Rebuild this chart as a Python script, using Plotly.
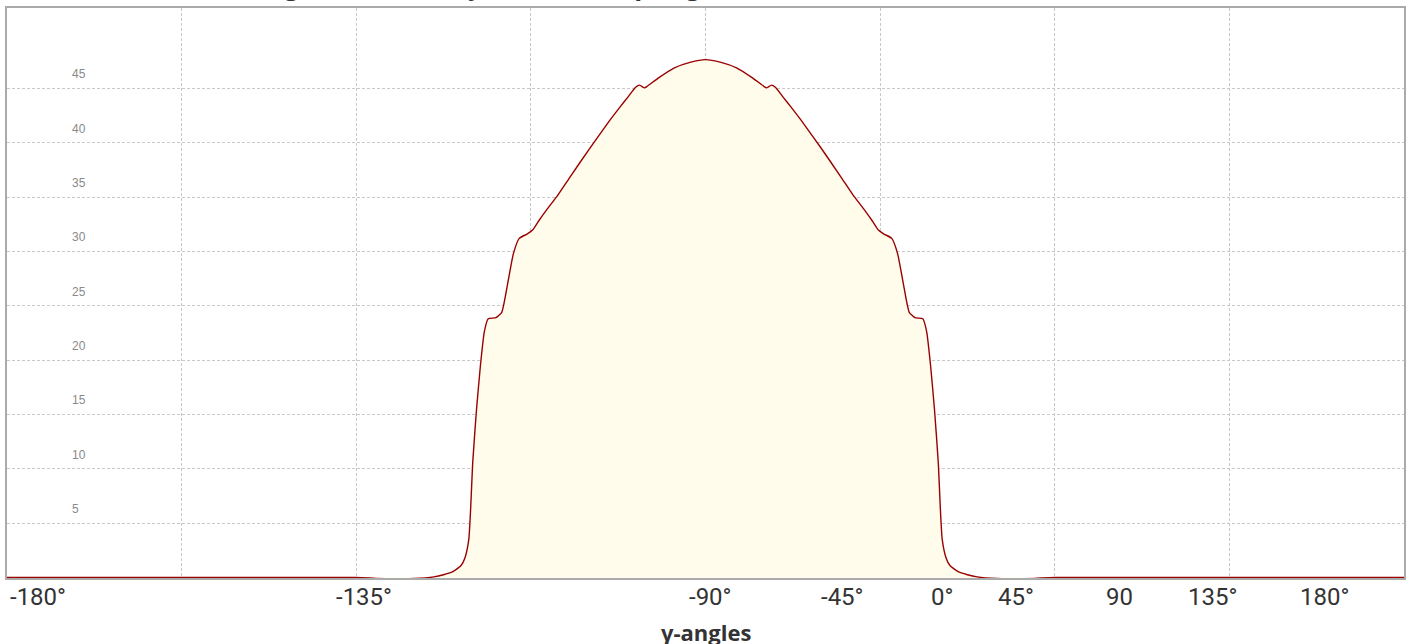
import plotly.graph_objects as go

# ---- data ----
gamma_angles = [-180, -90, -85, -80, -75, -70, -67.5, -65, -63, -62, -61, -60.5, -60, -59, -58, -57, -56,
                -54, -52.5, -51, -49.5, -48, -46, -44.5, -43, -41, -38, -35, -30, -25, -22, -20, -18, -17,
                -15.7, -15, -12, -8, -4, 0,
                4, 8, 12, 15, 15.7, 17, 18, 20, 22, 25, 30, 35, 38, 41, 43, 44.5, 46, 48, 49.5, 51, 52.5,
                54, 56, 57, 58, 59, 60, 60.5, 61, 62, 63, 65, 67.5, 70, 75, 80, 85, 90, 180]
intensity = [0, 0, -0.08, -0.12, -0.1, 0.05, 0.25, 0.55, 1.1, 1.8, 3.5, 6.5, 10.5, 15.5, 19.5, 22.6, 23.8,
             23.9, 24.4, 27.0, 29.8, 31.2, 31.6, 32.0, 32.8, 33.8, 35.2, 36.8, 39.4, 41.9, 43.3, 44.2, 45.1, 45.3,
             45.05, 45.2, 46.0, 46.9, 47.4, 47.65,
             47.4, 46.9, 46.0, 45.2, 45.05, 45.3, 45.1, 44.2, 43.3, 41.9, 39.4, 36.8, 35.2, 33.8, 32.8, 32.0,
             31.6, 31.2, 29.8, 27.0, 24.4, 23.9, 23.8, 22.6, 19.5, 15.5, 10.5, 6.5, 3.5, 1.8, 1.1, 0.55, 0.25,
             0.05, -0.1, -0.12, -0.08, 0, 0]

x_tick_text = ["-180°", "-135°", "-90°", "-45°", "0°", "45°", "90", "135°", "180°"]
y_tick_vals = [5, 10, 15, 20, 25, 30, 35, 40, 45]
title_text = "Luminaire Polar Diagram - Intensity (cd/klm) vs γ-angle"
x_title = "γ-angles"

# label positions (paper fraction across the plot width; first one is a left edge)
x_label_pos = [0.0007, 0.2552, 0.5039, 0.5983, 0.6690, 0.7226, 0.7963, 0.8628, 0.9428]

fig = go.Figure()
fig.add_trace(go.Scatter(
    x=gamma_angles, y=intensity, mode="lines",
    line=dict(color="#990000", width=1.4, shape="spline", smoothing=0.5),
    fill="tozeroy", fillcolor="#FFFCEB", hoverinfo="x+y", showlegend=False,
))

fig.update_layout(
    width=1412, height=644,
    margin=dict(l=7, r=6, t=7, b=66),
    paper_bgcolor="white", plot_bgcolor="white",
    xaxis=dict(range=[-180, 180], dtick=45, tick0=-180, showticklabels=False,
               showgrid=True, gridcolor="#c8c8c8", griddash="3px,2px", gridwidth=1,
               zeroline=False, showline=True, linecolor="#aaaaaa", linewidth=1.5, mirror=True,
               layer="below traces"),
    yaxis=dict(range=[-0.05, 52.4], tickvals=y_tick_vals, showticklabels=False,
               showgrid=True, gridcolor="#c8c8c8", griddash="3px,2px", gridwidth=1,
               zeroline=False, showline=True, linecolor="#aaaaaa", linewidth=1.5, mirror=True,
               layer="below traces"),
)

for v in y_tick_vals:
    fig.add_annotation(x=0.0453, xref="paper", y=v, yref="y", text=str(v), showarrow=False,
                       yshift=14, font=dict(family="Liberation Sans, Arial", size=12, color="#8a8a8a"))

for i, (t, p) in enumerate(zip(x_tick_text, x_label_pos)):
    fig.add_annotation(x=p, xref="paper", y=0, yref="paper", text=t, showarrow=False,
                       xanchor="left" if i == 0 else "center",
                       yanchor="top", yshift=-3, font=dict(family="Roboto", size=24, color="#333333"))

fig.add_annotation(x=0.5, xref="paper", y=0, yref="paper", text="<b>" + x_title + "</b>", showarrow=False,
                   yanchor="top", yshift=-37, font=dict(family="Open Sans", size=22, color="#333333"))

fig.add_annotation(x=0.020, xref="paper", y=1, yref="paper", text="<b>" + title_text + "</b>", showarrow=False,
                   xanchor="left", yanchor="bottom", yshift=4, font=dict(family="Open Sans", size=25, color="#333333"))

fig.write_html("out.html", config={"displayModeBar": False},
               post_script="document.body.style.margin='0';document.body.style.overflow='hidden';")
